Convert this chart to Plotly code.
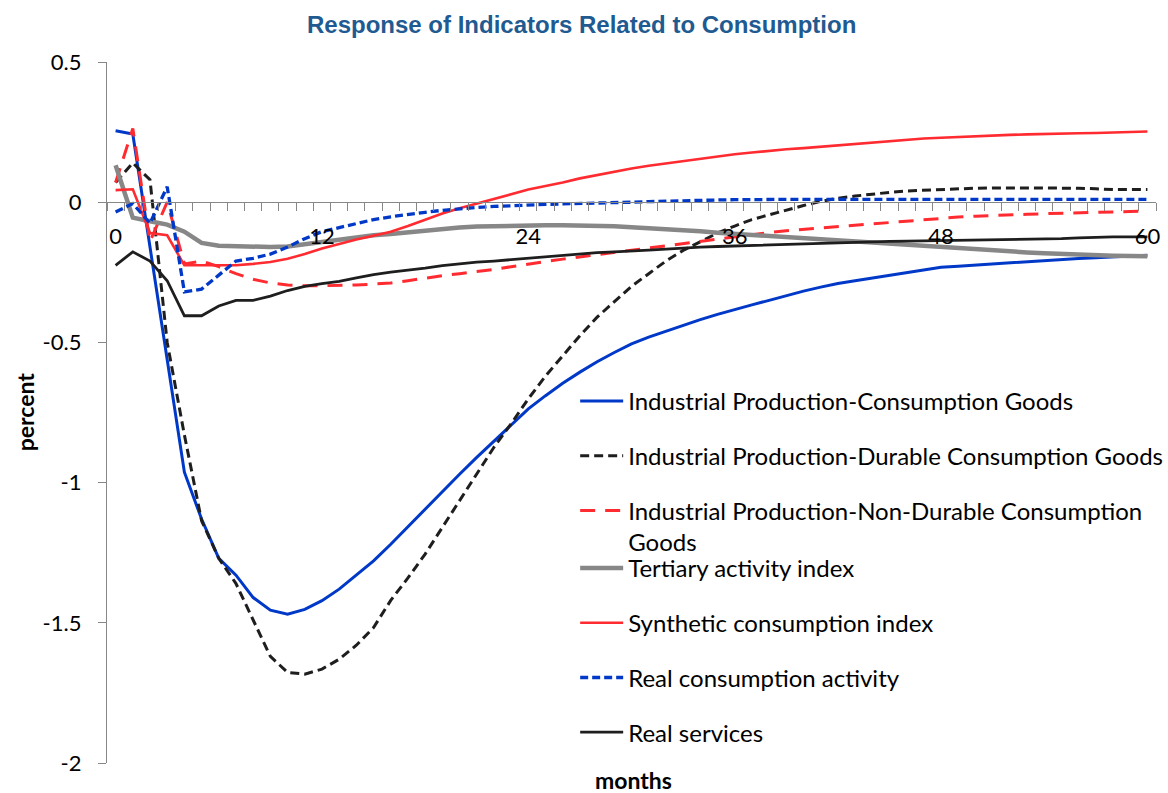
import plotly.graph_objects as go

months = list(range(61))
tick_months = [0, 12, 24, 36, 48, 60]
tick_month_labels = ["0", "12", "24", "36", "48", "60"]
y_ticks = [0.5, 0, -0.5, -1, -1.5, -2]
y_tick_labels = ["0.5", "0", "-0.5", "-1", "-1.5", "-2"]

ip_consumption = [0.255, 0.243, -0.16, -0.57, -0.963, -1.13, -1.27, -1.33, -1.41, -1.455,
                  -1.469, -1.452, -1.421, -1.38, -1.33, -1.279, -1.22, -1.157, -1.094, -1.03,
                  -0.97, -0.91, -0.852, -0.795, -0.737, -0.69, -0.646, -0.606, -0.569, -0.536,
                  -0.505, -0.481, -0.46, -0.438, -0.419, -0.40, -0.382, -0.366, -0.35, -0.333,
                  -0.317, -0.303, -0.29, -0.28, -0.27, -0.26, -0.25, -0.241, -0.232, -0.228,
                  -0.224, -0.219, -0.215, -0.211, -0.207, -0.204, -0.201, -0.198, -0.195, -0.192,
                  -0.189]

ip_durable = [0.07, 0.14, 0.08, -0.50, -0.83, -1.136, -1.27, -1.36, -1.49, -1.62,
              -1.677, -1.683, -1.665, -1.63, -1.58, -1.517, -1.42, -1.34, -1.255, -1.16,
              -1.064, -0.97, -0.874, -0.79, -0.701, -0.62, -0.546, -0.476, -0.41, -0.355,
              -0.30, -0.255, -0.21, -0.172, -0.14, -0.11, -0.085, -0.062, -0.045, -0.028,
              -0.012, 0.003, 0.014, 0.022, 0.029, 0.035, 0.04, 0.043, 0.046, 0.048,
              0.05, 0.051, 0.051, 0.051, 0.051, 0.051, 0.05, 0.048, 0.045, 0.045,
              0.045]

ip_nondurable = [0.07, 0.263, -0.14, 0.0, -0.22, -0.21, -0.23, -0.255, -0.275, -0.288,
                 -0.295, -0.298, -0.298, -0.297, -0.295, -0.292, -0.288, -0.28, -0.27, -0.262,
                 -0.255, -0.248, -0.24, -0.23, -0.22, -0.212, -0.203, -0.195, -0.187, -0.179,
                 -0.17, -0.162, -0.155, -0.147, -0.139, -0.131, -0.123, -0.115, -0.108, -0.102,
                 -0.097, -0.092, -0.086, -0.081, -0.076, -0.071, -0.066, -0.061, -0.056, -0.053,
                 -0.05, -0.047, -0.045, -0.043, -0.041, -0.039, -0.037, -0.036, -0.034, -0.033,
                 -0.032]

tertiary = [0.132, -0.055, -0.068, -0.08, -0.105, -0.145, -0.155, -0.158, -0.158, -0.16,
            -0.158, -0.15, -0.14, -0.133, -0.125, -0.118, -0.113, -0.107, -0.1, -0.095,
            -0.09, -0.087, -0.085, -0.083, -0.082, -0.082, -0.082, -0.082, -0.083, -0.086,
            -0.089, -0.092, -0.095, -0.099, -0.104, -0.109, -0.113, -0.118, -0.122, -0.126,
            -0.13, -0.134, -0.137, -0.141, -0.145, -0.149, -0.154, -0.158, -0.162, -0.166,
            -0.17, -0.173, -0.176, -0.179, -0.182, -0.185, -0.187, -0.189, -0.191, -0.192,
            -0.193]

synthetic = [0.043, 0.046, -0.11, -0.118, -0.225, -0.225, -0.225, -0.225, -0.22, -0.213,
             -0.202, -0.185, -0.165, -0.148, -0.133, -0.12, -0.105, -0.085, -0.062, -0.04,
             -0.022, -0.005, 0.013, 0.03, 0.045, 0.058, 0.07, 0.085, 0.097, 0.11,
             0.12, 0.13, 0.138, 0.147, 0.156, 0.163, 0.171, 0.177, 0.184, 0.189,
             0.193, 0.198, 0.203, 0.208, 0.213, 0.218, 0.223, 0.227, 0.23, 0.233,
             0.236, 0.238, 0.24, 0.242, 0.244, 0.245, 0.246, 0.247, 0.248, 0.25,
             0.252]

real_consumption = [-0.035, -0.005, -0.075, 0.055, -0.32, -0.31, -0.26, -0.21, -0.2, -0.185,
                    -0.16, -0.13, -0.105, -0.09, -0.075, -0.062, -0.052, -0.043, -0.036, -0.029,
                    -0.023, -0.019, -0.015, -0.012, -0.01, -0.008, -0.006, -0.005, -0.004, -0.002,
                    0.0, 0.002, 0.004, 0.005, 0.007, 0.008, 0.009, 0.01, 0.01, 0.01,
                    0.01, 0.01, 0.01, 0.01, 0.01, 0.01, 0.01, 0.01, 0.01, 0.01,
                    0.01, 0.01, 0.01, 0.01, 0.01, 0.01, 0.01, 0.01, 0.01, 0.01,
                    0.01]

real_services = [-0.225, -0.177, -0.21, -0.28, -0.405, -0.405, -0.37, -0.35, -0.35, -0.335,
                 -0.315, -0.3, -0.29, -0.282, -0.27, -0.258, -0.249, -0.243, -0.235, -0.226,
                 -0.219, -0.214, -0.21, -0.205, -0.2, -0.194, -0.188, -0.183, -0.18, -0.177,
                 -0.175, -0.171, -0.167, -0.163, -0.16, -0.158, -0.156, -0.154, -0.152, -0.151,
                 -0.15, -0.148, -0.146, -0.144, -0.142, -0.14, -0.139, -0.138, -0.137, -0.136,
                 -0.135, -0.135, -0.134, -0.134, -0.133, -0.13, -0.127, -0.125, -0.124, -0.124,
                 -0.124]

BLUE = "#0038C8"
RED = "#FF2B30"
BLACK = "#1E1E1E"
GRAY = "#878787"
FONT = "Lato"

series = [
    ("Industrial Production-Consumption Goods", ip_consumption, BLUE, 3, "solid", "legend"),
    ("Industrial Production-Durable Consumption Goods", ip_durable, BLACK, 3, "9px,5px", "legend"),
    ("Industrial Production-Non-Durable Consumption<br>Goods", ip_nondurable, RED, 3, "15px,10px", "legend"),
    ("Tertiary activity index", tertiary, GRAY, 4.5, "solid", "legend2"),
    ("Synthetic consumption index", synthetic, RED, 2.6, "solid", "legend2"),
    ("Real consumption activity", real_consumption, BLUE, 3.3, "8px,4px", "legend2"),
    ("Real services", real_services, BLACK, 2.8, "solid", "legend2"),
]

fig = go.Figure()
for i, (name, vals, color, width, dash, leg) in enumerate(series):
    fig.add_trace(go.Scatter(
        x=months, y=vals, mode="lines", name=name,
        line=dict(color=color, width=width, dash=dash),
        legend=leg, legendgroup="g%d" % i,
    ))

L, T, W, H = 106.7, 62, 1049.3, 701

def px_x(p):
    return (p - L) / W

def px_y(p):
    return (T + H - p) / H

legend_common = dict(
    font=dict(family=FONT, size=24, color="black"),
    bgcolor="rgba(0,0,0,0)", borderwidth=0,
    tracegroupgap=20.5, valign="top",
    xanchor="left", yanchor="top", itemwidth=43,
)

fig.update_layout(
    width=1168, height=793,
    margin=dict(l=L, r=1168 - L - W, t=T, b=793 - T - H, autoexpand=False),
    paper_bgcolor="white", plot_bgcolor="white",
    title=dict(text="<b>Response of Indicators Related to Consumption</b>",
               font=dict(family="Liberation Sans", size=24, color="#1F5A91"),
               x=0.498, xref="container", xanchor="center",
               y=1 - 25 / 793, yref="container", yanchor="middle"),
    xaxis=dict(
        range=[-0.5, 60.5], anchor="free", position=0.8,
        showline=True, linecolor=GRAY, linewidth=1.3,
        tickmode="array", tickvals=tick_months, ticktext=tick_month_labels,
        ticks="", ticklabelstandoff=14,
        tickfont=dict(family=FONT, size=22, color="black"),
        minor=dict(tickmode="array", tickvals=[m - 0.5 for m in months] + [60.5],
                   ticks="outside", ticklen=8, tickcolor=GRAY, tickwidth=1.3),
        showgrid=False, zeroline=False,
    ),
    yaxis=dict(
        range=[-2, 0.5], domain=[0, 1],
        showline=True, linecolor=GRAY, linewidth=1.3,
        tickmode="array", tickvals=y_ticks, ticktext=y_tick_labels,
        ticks="outside", ticklen=8, tickcolor=GRAY, tickwidth=1.3,
        ticklabelstandoff=12,
        tickfont=dict(family=FONT, size=22, color="black"),
        showgrid=False, zeroline=False,
    ),
    legend=dict(x=px_x(575), y=px_y(379), **legend_common),
    legend2=dict(x=px_x(575), y=px_y(546), **legend_common),
    annotations=[
        dict(text="<b>percent</b>", x=px_x(25), y=px_y(412), xref="paper", yref="paper",
             textangle=-90, showarrow=False, xanchor="center", yanchor="middle",
             font=dict(family=FONT, size=23, color="black")),
        dict(text="<b>months</b>", x=px_x(633), y=px_y(780), xref="paper", yref="paper",
             showarrow=False, xanchor="center", yanchor="middle",
             font=dict(family=FONT, size=23, color="black")),
    ],
)

fig.write_html("out.html", config={"displayModeBar": False},
               post_script="document.body.style.margin='0';")
